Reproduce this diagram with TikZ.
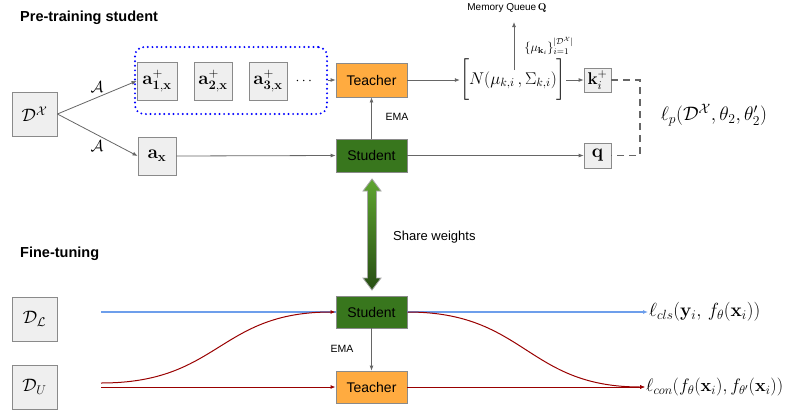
\RequirePackage{fix-cm}
\documentclass[tikz,border=0pt]{standalone}
\usepackage{amsmath}
\usepackage[no-math]{fontspec}
\setmainfont{Liberation Sans}
\usetikzlibrary{arrows.meta}
\definecolor{orng}{HTML}{FFAB40}
\definecolor{dgreen}{HTML}{38761D}
\definecolor{boxfill}{HTML}{EFEFEF}
\definecolor{boxdraw}{HTML}{8A8A8A}
\definecolor{egray}{HTML}{666666}
\definecolor{lblue}{HTML}{6D9EEB}
\definecolor{dred}{HTML}{990000}
\definecolor{gtop}{HTML}{5FA530}
\definecolor{gbot}{HTML}{274E13}
\begin{document}
\begin{tikzpicture}[x=1pt,y=-1pt,
  gbox/.style={draw=boxdraw, fill=boxfill, line width=0.8pt, inner sep=0pt},
  mathlbl/.style={font=\fontsize{18}{20}\selectfont, inner sep=1pt},
  teach/.style={draw=boxdraw, fill=orng, line width=0.8pt, minimum width=71, minimum height=34, font=\fontsize{14}{16}\selectfont, inner sep=0pt},
  stud/.style={draw=boxdraw, fill=dgreen, line width=0.8pt, minimum width=71, minimum height=33, font=\fontsize{14}{16}\selectfont, inner sep=0pt},
  ttl/.style={font=\fontsize{14.5}{16}\selectfont\bfseries, anchor=west, inner sep=0pt},
  small/.style={font=\fontsize{10.5}{12}\selectfont, inner sep=0pt},
  conn/.style={draw=egray, line width=0.8pt, -{Latex[length=5pt,width=4pt]}},
  dashline/.style={draw=egray, line width=1.6pt, dash pattern=on 7pt off 5pt},
  redl/.style={draw=dred, line width=1pt},
  bluel/.style={draw=lblue, line width=1.2pt}
]
\useasboundingbox (0,0) rectangle (786,416);

% ---------- Pre-training ----------
\node[ttl] (t1) at (20,18) {Pre-training student};

\node[gbox, minimum width=45, minimum height=44, mathlbl] (DX) at (34.5,114) {$\mathcal{D}^{\mathcal{X}}$};

\node[draw=blue, rounded corners=9, dash pattern=on 0pt off 4.6pt, line cap=round, line width=2.2pt, minimum width=192, minimum height=67] (grp) at (231,80.5) {};

\node[gbox, minimum width=40, minimum height=38, font=\fontsize{18.5}{20}\selectfont] (a1) at (157,81) {$\mathbf{a}^{+}_{\mathbf{1,x}}$};
\node[gbox, minimum width=38, minimum height=38, font=\fontsize{18.5}{20}\selectfont] (a2) at (213,81) {$\mathbf{a}^{+}_{\mathbf{2,x}}$};
\node[gbox, minimum width=38, minimum height=38, font=\fontsize{18.5}{20}\selectfont] (a3) at (268,81) {$\mathbf{a}^{+}_{\mathbf{3,x}}$};
\node[font=\fontsize{14}{16}\selectfont, inner sep=0pt] (dots) at (305,81) {$\cdots$};

\node[gbox, minimum width=38, minimum height=38, font=\fontsize{19}{21}\selectfont] (ax) at (157,156) {$\mathbf{a}_{\mathbf{x}}$};

\node[teach] (T1) at (371.5,80) {Teacher};
\node[stud] (S1) at (371.5,155.5) {Student};

\node[font=\fontsize{17}{19}\selectfont, inner sep=0pt] (N) at (513,80) {$\biggl[N(\mu_{k,i}\,,\Sigma_{k,i})\biggr]$};
\node[gbox, minimum width=27, minimum height=24, font=\fontsize{17}{19}\selectfont] (kb) at (597.5,80) {$\mathbf{k}_i^{+}$};
\node[gbox, minimum width=27, minimum height=25, font=\fontsize{19}{21}\selectfont] (qb) at (597.5,155.5) {$\mathbf{q}$};

\node[small, font=\fontsize{10}{12}\selectfont] (mqt) at (507,8) {Memory Queue\,$\mathbf{Q}$};
\coordinate (mq) at (514,22);
\coordinate (mqs) at (514,70);
\node[font=\fontsize{12.5}{14}\selectfont, inner sep=0pt] (mul) at (549,46) {$\{\mu_{\mathbf{k}_i}\}_{i=1}^{|\mathcal{D}^{\mathcal{X}}|}$};

\node[mathlbl, font=\fontsize{19.5}{21}\selectfont] (lp) at (714,115) {$\ell_p(\mathcal{D}^{\mathcal{X}},\theta_2,\theta_2')$};

\node[mathlbl, font=\fontsize{16}{18}\selectfont] (A1) at (97,87) {$\mathcal{A}$};
\node[mathlbl, font=\fontsize{16}{18}\selectfont] (A2) at (97,146) {$\mathcal{A}$};

\node[small] (ema1) at (397,117) {EMA};

\draw[conn] (DX.east) -- (a1.west);
\draw[conn] (DX.east) -- (ax.west);
\draw[conn] (grp.east |- T1.west) -- (T1.west);
\draw[conn] (ax.east) -- (S1.west);
\draw[conn] (S1.north) -- (T1.south);
\draw[conn] (T1.east) -- (N.west);
\draw[conn] (N.east) -- (kb.west);
\draw[conn] (S1.east) -- (qb.west);
\draw[conn] (mqs) -- (mq);
\coordinate (dc) at (640,80);
\draw[dashline] (kb.east) -- (dc) |- (qb.east);

% ---------- share weights ----------
\shade[top color=gtop, bottom color=gbot, draw=gray!70, line width=0.8pt]
  (372,179) -- (381,191) -- (376.5,191) -- (376.5,278) -- (381,278) -- (372,290)
  -- (363,278) -- (367.5,278) -- (367.5,191) -- (363,191) -- cycle;
\node[font=\fontsize{13}{15}\selectfont, anchor=west, inner sep=0pt] (sw) at (393,237) {Share weights};

% ---------- Fine-tuning ----------
\node[ttl] (t2) at (20,254) {Fine-tuning};

\node[gbox, minimum width=45, minimum height=44, mathlbl] (DL) at (34.5,319) {$\mathcal{D}_{\mathcal{L}}$};
\node[gbox, minimum width=45, minimum height=44, mathlbl] (DU) at (34.5,387) {$\mathcal{D}_{U}$};

\node[stud, minimum height=32] (S2) at (371.5,312) {Student};
\node[teach, minimum height=32] (T2) at (371.5,387) {Teacher};
\node[small] (ema2) at (342,349) {EMA};

\node[mathlbl, anchor=west, font=\fontsize{19}{21}\selectfont] (lcls) at (648,312) {$\ell_{cls}(\mathbf{y}_i,\, f_\theta(\mathbf{x}_i))$};
\node[mathlbl, anchor=west, font=\fontsize{18}{20}\selectfont] (lcon) at (645,387) {$\ell_{con}(f_\theta(\mathbf{x}_i), f_{\theta'}(\mathbf{x}_i))$};

\coordinate (bl) at (101,312);
\coordinate (ul) at (101,383);
\coordinate (ul2) at (101,387);

\draw[bluel] (bl) -- (S2.west);
\draw[redl, -{Latex[length=5pt,width=4pt]}] (ul) .. controls (220,383) and (218,312) .. (S2.west);
\draw[redl, -{Latex[length=5pt,width=4pt]}] (ul2) -- (T2.west);
\draw[conn] (S2.south) -- (T2.north);
\draw[bluel, -{Latex[length=5pt,width=4pt]}] (S2.east) -- (lcls.west);
\draw[redl, -{Latex[length=5pt,width=4pt]}] (S2.east) .. controls (526,312) and (526,387) .. (lcon.west);
\draw[redl, -{Latex[length=5pt,width=4pt]}] (T2.east) -- (lcon.west);
\end{tikzpicture}
\end{document}
